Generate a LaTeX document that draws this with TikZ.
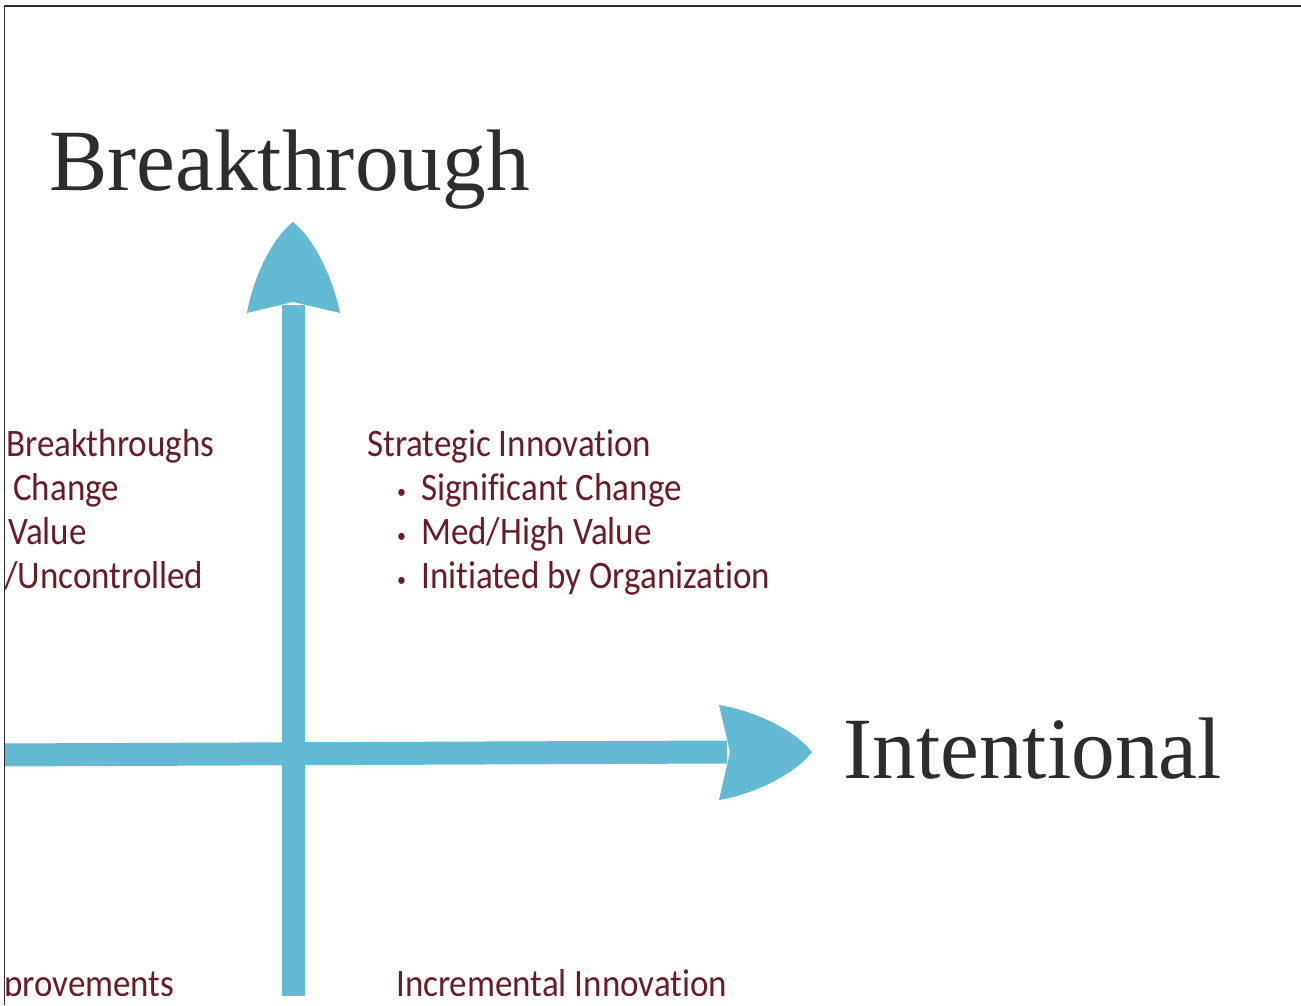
\documentclass[tikz,border=0pt]{standalone}
\usepackage{fontspec}
\setmainfont{Liberation Serif}
\newfontfamily\quadfont[FakeStretch=0.9,Ligatures=NoCommon]{Carlito}

\definecolor{axisblue}{RGB}{101,186,211}
\definecolor{quadred}{RGB}{105,27,42}
\definecolor{framegray}{RGB}{45,45,45}

\begin{document}
\begin{tikzpicture}[x=1pt,y=-1pt,
  axis/.style={axisblue, line width=23pt},
  axisname/.style={anchor=base west, inner sep=0pt, text=framegray, font=\fontsize{87.4}{90}\selectfont},
  quad/.style={anchor=base west, inner sep=0pt, text=quadred, font=\quadfont\fontsize{38.9}{44}\selectfont},
  dot/.style={anchor=base west, inner sep=0pt, text=quadred, font=\quadfont\fontsize{20}{20}\selectfont}]

\useasboundingbox (0,0) rectangle (1301,1005);

\begin{scope}
\clip (5,6) rectangle (1301,995);

% the two axes
\coordinate (ylow) at (293,1010);
\coordinate (ytop) at (293,305);
\coordinate (xleft) at (-10,755);
\coordinate (xright) at (727,752);
\draw[axis] (ylow) -- (ytop);
\draw[axis] (xleft) -- (xright);

% arrow heads
\fill[axisblue] (293,222) .. controls (272,238) and (253,278) .. (247,313) -- (293,302)
  -- (340,313) .. controls (333,278) and (314,238) .. (293,222) -- cycle;
\fill[axisblue] (812,752) .. controls (796,731) and (756,711) .. (719,705) -- (730,752)
  -- (719,800) .. controls (756,794) and (796,773) .. (812,752) -- cycle;

% axis names
\node[axisname] (yname) at (49,190) {Breakthrough};
\node[axisname] (xname) at (843,778) {Intentional};

% upper left quadrant
\node[quad] (ul1) at (6,456) {Breakthroughs};
\node[quad] (ul2) at (13,500) {Change};
\node[quad] (ul3) at (8,544) {Value};
\node[quad] (ul4) at (4,588) {/Uncontrolled};

% upper right quadrant
\node[quad] (ur) at (367,456) {Strategic Innovation};
\node[dot] (b1) at (397,498) {•};
\node[quad] (ur1) at (421,500) {Significant Change};
\node[dot] (b2) at (397,542) {•};
\node[quad] (ur2) at (421,544) {Med/High Value};
\node[dot] (b3) at (397,586) {•};
\node[quad] (ur3) at (421,588) {Initiated by Organization};

% lower quadrants
\node[quad] (ll) at (4,996) {provements};
\node[quad] (lr) at (396,996) {Incremental Innovation};
\end{scope}

% frame
\draw[framegray, line width=2pt] (4,5.5) -- (1301,5.5);
\draw[framegray, line width=1.5pt] (4.5,5) -- (4.5,1005);

\end{tikzpicture}
\end{document}
